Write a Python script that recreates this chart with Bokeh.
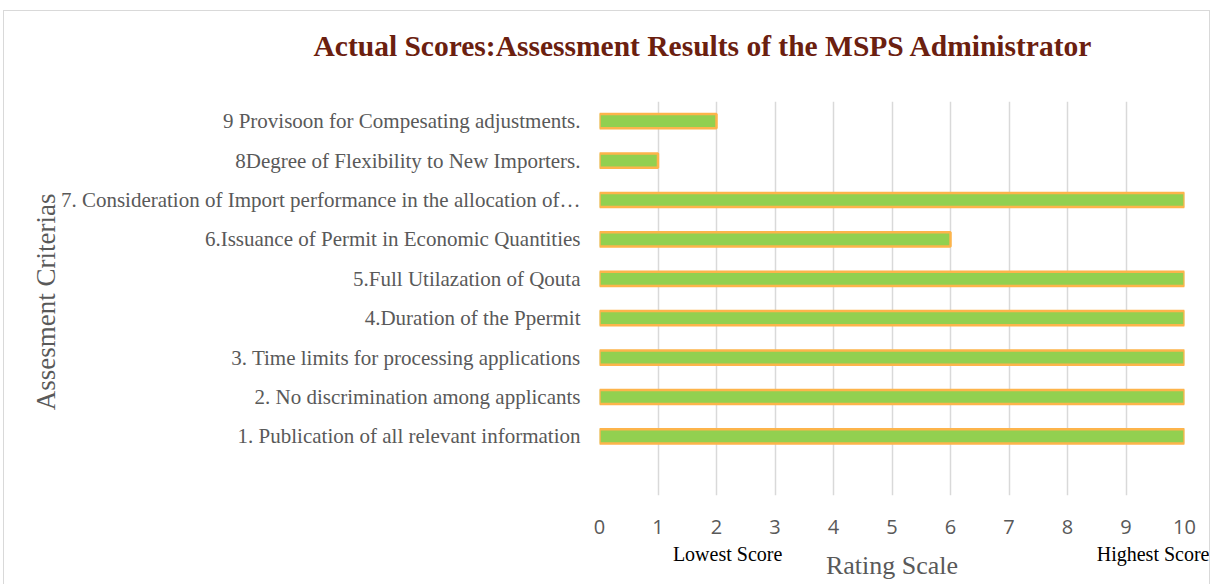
from bokeh.plotting import figure
from bokeh.models import FactorRange, Range1d, FixedTicker, LinearAxis, Title
from bokeh.embed import file_html
from bokeh.resources import INLINE

# ---- data ----
criteria = [
    "1. Publication of all relevant information",
    "2. No discrimination among applicants",
    "3. Time limits for processing applications",
    "4.Duration of the Ppermit",
    "5.Full Utilazation of Qouta",
    "6.Issuance of Permit in Economic Quantities",
    "7. Consideration of Import performance in the allocation of\u2026",
    "8Degree of Flexibility to New Importers.",
    "9 Provisoon for Compesating adjustments.",
]
scores = [10, 10, 10, 10, 10, 6, 10, 1, 2]
x_ticks = list(range(0, 11))
scale_note_pos = [2.19, 9.47]
scale_note_text = ["Lowest Score", "Highest Score"]
title_text = "Actual Scores:Assessment Results of the MSPS Administrator"

factors = [" "] + criteria

p = figure(
    width=1207, height=574,
    y_range=FactorRange(factors=factors, range_padding=0),
    x_range=Range1d(0, 10),
    title_location=None,
    output_backend="svg", toolbar_location=None,
    min_border_left=595, min_border_right=27, min_border_top=90, min_border_bottom=90,
)
p.styles = {"border-top": "1px solid #d9d9d9", "border-left": "1px solid #d9d9d9",
            "border-right": "1px solid #d9d9d9", "margin-left": "3px", "margin-top": "10px"}
p.outline_line_color = None

p.hbar(y=criteria, left=0, right=scores, height=0.36,
       fill_color="#92D050", line_color="#FDB44B", line_width=2.5)

# spacer between plot area and title, then the title itself
p.add_layout(Title(text=" ", text_font_size="10px", standoff=24), "above")
p.add_layout(Title(text=title_text, align="left", offset=-286, standoff=5,
                   text_font="Liberation Serif", text_font_size="29.5px",
                   text_font_style="bold", text_color="#6B200F"), "above")

# grids
p.ygrid.grid_line_color = None
p.xgrid.grid_line_color = "#D9D9D9"
p.xgrid.grid_line_width = 1.5

# x axis (numbers)
ax = p.xaxis[0]
ax.ticker = FixedTicker(ticks=x_ticks)
ax.axis_line_color = None
ax.major_tick_line_color = None
ax.minor_tick_line_color = None
ax.major_tick_out = 0
ax.major_tick_in = 0
ax.major_label_standoff = 24
ax.major_label_text_font = "Open Sans"
ax.major_label_text_font_size = "20px"
ax.major_label_text_color = "#595959"

# second x axis: score notes + axis title
ax2 = LinearAxis(
    ticker=FixedTicker(ticks=scale_note_pos),
    major_label_overrides={scale_note_pos[0]: scale_note_text[0],
                           scale_note_pos[1]: scale_note_text[1]},
    axis_line_color=None, major_tick_line_color=None, minor_tick_line_color=None,
    major_tick_out=0, major_tick_in=0, major_label_standoff=6,
    major_label_text_font="Liberation Serif", major_label_text_font_size="20px",
    major_label_text_color="#000000",
    axis_label="Rating Scale", axis_label_standoff=-17,
    axis_label_text_font="Liberation Serif", axis_label_text_font_size="26px",
    axis_label_text_font_style="normal", axis_label_text_color="#595959",
)
p.add_layout(ax2, "below")

# y axis
p.yaxis.axis_line_color = None
p.yaxis.major_tick_line_color = None
p.yaxis.minor_tick_line_color = None
p.yaxis.major_tick_out = 0
p.yaxis.major_tick_in = 0
p.yaxis.major_label_standoff = 19
p.yaxis.major_label_text_font = "Liberation Serif"
p.yaxis.major_label_text_font_size = "21px"
p.yaxis.major_label_text_color = "#595959"
p.yaxis.axis_label = "Assesment  Criterias"
p.yaxis.axis_label_standoff = -3
p.yaxis.axis_label_text_font = "Liberation Serif"
p.yaxis.axis_label_text_font_size = "27px"
p.yaxis.axis_label_text_font_style = "normal"
p.yaxis.axis_label_text_color = "#595959"

open("out.html", "w").write(file_html(p, INLINE))
